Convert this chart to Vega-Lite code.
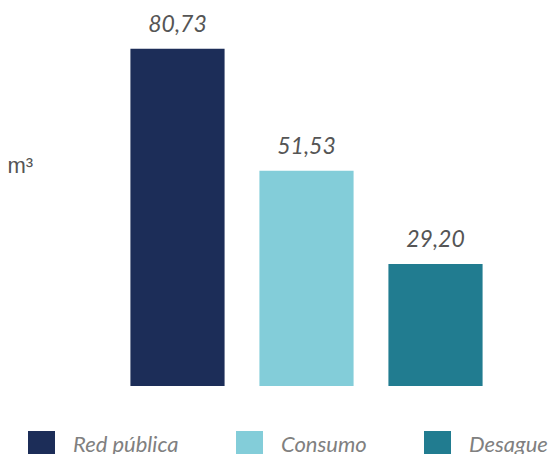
{
  "$schema": "https://vega.github.io/schema/vega-lite/v6.json",
  "autosize": {"type": "none"},
  "width": 387,
  "height": 376,
  "padding": {"left": 113, "top": 10, "right": 50, "bottom": 68},
  "background": "white",
  "config": {"view": {"stroke": null}},
  "data": {
    "values": [
      {"cat": "Red pública", "value": 80.73, "label": "80,73"},
      {"cat": "Consumo", "value": 51.53, "label": "51,53"},
      {"cat": "Desague", "value": 29.20, "label": "29,20"}
    ]
  },
  "encoding": {
    "x": {
      "field": "cat",
      "type": "nominal",
      "sort": ["Red pública", "Consumo", "Desague"],
      "scale": {"paddingInner": 0.27, "paddingOuter": 0.135},
      "axis": null
    },
    "y": {
      "field": "value",
      "type": "quantitative",
      "scale": {"domain": [0, 90], "nice": false},
      "axis": {
        "title": "m³",
        "titleAngle": 0,
        "titleAlign": "left",
        "titleBaseline": "alphabetic",
        "titleX": -106,
        "titleY": 162,
        "titleFont": "Liberation Sans",
        "titleFontSize": 22,
        "titleFontWeight": "normal",
        "titleColor": "#555555",
        "labels": false,
        "ticks": false,
        "domain": false,
        "grid": false
      }
    }
  },
  "layer": [
    {
      "mark": {"type": "bar"},
      "encoding": {
        "color": {
          "field": "cat",
          "type": "nominal",
          "sort": ["Red pública", "Consumo", "Desague"],
          "scale": {
            "domain": ["Red pública", "Consumo", "Desague"],
            "range": ["#1c2d58", "#83cdd9", "#217c90"]
          },
          "legend": {
            "title": null,
            "orient": "none",
            "direction": "horizontal",
            "legendX": -85,
            "legendY": 421,
            "symbolType": "square",
            "symbolSize": 729,
            "symbolStrokeWidth": 0,
            "symbolOpacity": 1,
            "labelFont": "Lato",
            "labelFontStyle": "italic",
            "labelFontSize": 22,
            "labelColor": "#808080",
            "labelOffset": 18,
            "columnPadding": 57,
            "padding": 0
          }
        }
      }
    },
    {
      "mark": {
        "type": "text",
        "dy": -12,
        "baseline": "bottom",
        "font": "Lato",
        "fontStyle": "italic",
        "fontSize": 23,
        "color": "#555555"
      },
      "encoding": {"text": {"field": "label"}}
    }
  ]
}
